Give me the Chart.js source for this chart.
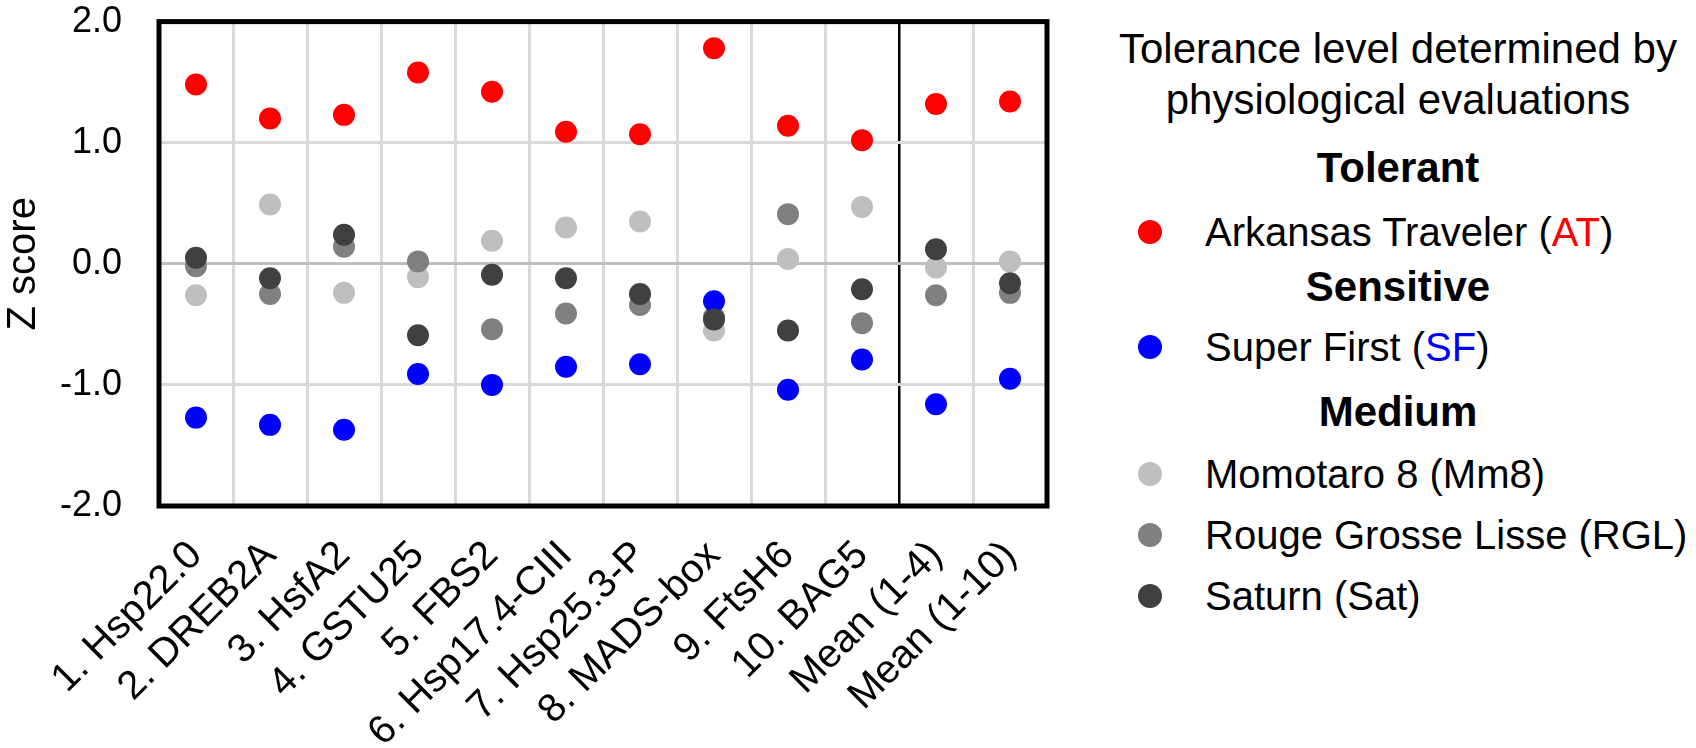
<!DOCTYPE html>
<html>
<head>
<meta charset="utf-8">
<script src="https://cdn.jsdelivr.net/npm/chart.js@4.4.0/dist/chart.umd.min.js"></script>
<style>
  body { margin: 0; background: #fff; font-family: "Liberation Sans", Arial, sans-serif; }
  #wrap { position: relative; width: 1696px; height: 748px; }
  #chartBox { position: absolute; left: 0; top: 0; width: 1100px; height: 748px; }
  #legend { position: absolute; left: 1100px; top: 0; width: 596px; height: 748px; color: #000; font-size: 40px; }
  .row { position: absolute; left: 0; width: 596px; height: 48px; line-height: 48px; white-space: nowrap; }
  .head { text-align: center; font-size: 42px; }
  .bold { font-weight: bold; }
  .item { padding-left: 105px; box-sizing: border-box; }
  .dot { position: absolute; left: 38px; top: 12px; width: 24px; height: 24px; border-radius: 50%; }
</style>
</head>
<body>
<div id="wrap">
  <div id="chartBox"><canvas id="zChart" width="1100" height="748"></canvas></div>
  <div id="legend"></div>
</div>
<script>
// Data
const genes = ['1. Hsp22.0', '2. DREB2A', '3. HsfA2', '4. GSTU25', '5. FBS2', '6. Hsp17.4-CIII',
               '7. Hsp25.3-P', '8. MADS-box', '9. FtsH6', '10. BAG5', 'Mean (1-4)', 'Mean (1-10)'];
const yTicks = [-2, -1, 0, 1, 2];

const atScores  = [1.48, 1.20, 1.23, 1.58, 1.42, 1.09, 1.07, 1.78, 1.14, 1.02, 1.32, 1.34];
const sfScores  = [-1.27, -1.33, -1.37, -0.91, -1.00, -0.85, -0.83, -0.31, -1.04, -0.79, -1.16, -0.95];
const mm8Scores = [-0.26, 0.49, -0.24, -0.11, 0.19, 0.30, 0.35, -0.55, 0.04, 0.47, -0.03, 0.02];
const rglScores = [-0.02, -0.25, 0.14, 0.02, -0.54, -0.41, -0.34, -0.44, 0.41, -0.49, -0.26, -0.24];
const satScores = [0.05, -0.12, 0.24, -0.59, -0.09, -0.12, -0.25, -0.46, -0.55, -0.21, 0.12, -0.16];

// cultivar info for the legend
const cultivars = [
    { name: 'Arkansas Traveler', abbr: 'AT', color: '#ff0000', group: 'Tolerant', colorAbbr: true },
    { name: 'Super First', abbr: 'SF', color: '#0000ff', group: 'Sensitive', colorAbbr: true },
    { name: 'Momotaro 8', abbr: 'Mm8', color: '#bfbfbf', group: 'Medium', colorAbbr: false },
    { name: 'Rouge Grosse Lisse', abbr: 'RGL', color: '#808080', group: 'Medium', colorAbbr: false },
    { name: 'Saturn', abbr: 'Sat', color: '#404040', group: 'Medium', colorAbbr: false }
];
const seriesValues = [atScores, sfScores, mm8Scores, rglScores, satScores];
// lower order = drawn on top
const drawOrder = [2, 3, 5, 4, 1];

const FONT = '"Liberation Sans", Arial, sans-serif';

// Black frame round the plot area
const framePlugin = {
    id: 'frame',
    afterDatasetsDraw(chart) {
        const { ctx, chartArea: a } = chart;
        ctx.save();
        ctx.strokeStyle = '#000';
        ctx.lineWidth = 5;
        ctx.strokeRect(a.left, a.top, a.right - a.left, a.bottom - a.top);
        ctx.restore();
    }
};

const datasets = cultivars.map((c, i) => ({
    label: c.name + ' (' + c.abbr + ')',
    data: seriesValues[i],
    showLine: false,
    pointRadius: 11,
    pointHoverRadius: 11,
    pointBackgroundColor: c.color,
    pointBorderWidth: 0,
    borderColor: c.color,
    backgroundColor: c.color,
    order: drawOrder[i]
}));

const ctx = document.getElementById('zChart').getContext('2d');
const zChart = new Chart(ctx, {
    type: 'line',
    data: { labels: genes, datasets: datasets },
    options: {
        responsive: false,
        animation: false,
        devicePixelRatio: 1,
        layout: { padding: { top: 0, right: 53, left: 0, bottom: 0 } },
        plugins: { legend: { display: false }, tooltip: { enabled: false } },
        scales: {
            x: {
                type: 'category',
                offset: true,
                border: { display: false },
                grid: {
                    offset: true,
                    drawTicks: false,
                    color: c => c.index === 10 ? '#000000' : '#d9d9d9',
                    lineWidth: c => c.index === 10 ? 2.5 : 3
                },
                ticks: {
                    autoSkip: false,
                    minRotation: 45,
                    maxRotation: 45,
                    padding: 26,
                    color: '#000',
                    font: { family: FONT, size: 40 }
                },
                afterFit(scale) { scale.height = 242; }
            },
            y: {
                min: -2,
                max: 2,
                border: { display: false },
                afterBuildTicks(scale) { scale.ticks = yTicks.map(v => ({ value: v })); },
                grid: {
                    drawTicks: true,
                    tickLength: 37,
                    tickColor: 'rgba(0,0,0,0)',
                    color: c => c.tick && c.tick.value === 0 ? '#bfbfbf' : '#d9d9d9',
                    lineWidth: 3
                },
                ticks: {
                    padding: 0,
                    color: '#000',
                    font: { family: FONT, size: 36 },
                    callback: v => Number(v).toFixed(1)
                },
                title: {
                    display: true,
                    text: 'Z score',
                    color: '#000',
                    padding: 0,
                    font: { family: FONT, size: 40 }
                },
                afterFit(scale) { scale.width = 159; }
            }
        }
    },
    plugins: [framePlugin]
});

// Legend built from the cultivar list (headings between the groups)
const legend = document.getElementById('legend');
const rowCenters = [49, 100, 168, 232, 287, 347, 412, 474, 535, 596];
const rows = [];
rows.push({ html: 'Tolerance level determined by', cls: 'head' });
rows.push({ html: 'physiological evaluations', cls: 'head' });
let lastGroup = '';
cultivars.forEach(c => {
    if (c.group !== lastGroup) {
        rows.push({ html: c.group, cls: 'head bold' });
        lastGroup = c.group;
    }
    const abbr = c.colorAbbr ? '<span style="color:' + c.color + '">' + c.abbr + '</span>' : c.abbr;
    rows.push({
        html: '<span class="dot" style="background:' + c.color + '"></span>' + c.name + ' (' + abbr + ')',
        cls: 'item'
    });
});
rows.forEach((r, i) => {
    const d = document.createElement('div');
    d.className = 'row ' + r.cls;
    d.style.top = (rowCenters[i] - 24) + 'px';
    d.innerHTML = r.html;
    legend.appendChild(d);
});
</script>
</body>
</html>
